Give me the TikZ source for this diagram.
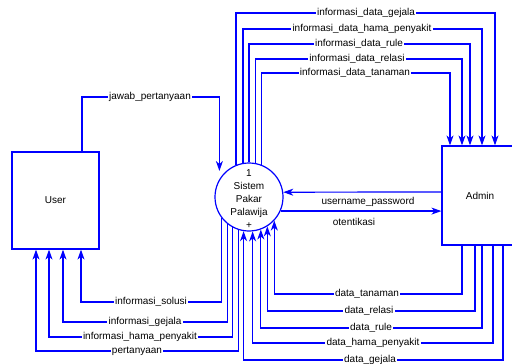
\documentclass[tikz,border=0pt]{standalone}
\usepackage{fontspec}
\setmainfont{Liberation Sans}
\usetikzlibrary{arrows.meta}
\definecolor{garisbiru}{RGB}{0,0,255}

\begin{document}
\begin{tikzpicture}[x=1pt, y=-1pt,
  font=\fontsize{10}{12}\selectfont,
  entitas/.style={rectangle, draw=garisbiru, fill=white, line width=1.2pt},
  lingkaran/.style={circle, draw=garisbiru, fill=white, line width=1.2pt, minimum size=68pt, inner sep=0pt},
  alir/.style={draw=garisbiru, line width=1.2pt, -{Stealth[length=10pt,width=7pt,inset=3pt]}},
  ket/.style={fill=white, inner sep=1.2pt}]
  \useasboundingbox (0,0) rectangle (512,364);
  \clip (0,0) rectangle (512,364);

  % entitas dan proses
  \node[entitas, minimum width=87pt, minimum height=97pt] (user) at (55.5,200.5) {User};
  \node[entitas, minimum width=76pt, minimum height=99pt] (admin) at (480,195.5) {Admin};
  \node[lingkaran] (proses) at (249,197) {};
  \node[align=center, font=\fontsize{10}{13}\selectfont] (namaproses) at ([yshift=-2pt]proses.center) {1\\Sistem\\Pakar\\Palawija\\+};

  % user
  \draw[alir] ([xshift=26.5pt]user.north) |- (150,97) node[ket]{jawab\_pertanyaan} -| ([xshift=5pt,yshift=26pt]proses.west);
  \draw[alir] (proses.217.5) |- (151,302) node[ket]{informasi\_solusi} -| ([xshift=25.5pt]user.south);
  \draw[alir] (proses.231.9) |- (145,322) node[ket]{informasi\_gejala} -| ([xshift=7.5pt]user.south);
  \draw[alir] (proses.241.9) |- (140,337) node[ket]{informasi\_hama\_penyakit} -| ([xshift=-6.5pt]user.south);
  \draw[alir] (proses.252.9) |- (137,351) node[ket]{pertanyaan} -| ([xshift=-19.5pt]user.south);

  % admin ke proses
  \draw[alir] ([yshift=3.5pt]admin.west) -- (proses.8.5);
  \node (ketuser) at (368,202) {username\_password};
  \draw[alir] (proses.-24.3) -- (admin.west |- proses.-24.3);
  \node (ketotentikasi) at (354,222) {otentikasi};

  % informasi data ke admin
  \draw[alir] (proses.112.5) |- (366,13) node[ket]{informasi\_data\_gejala} -| ([xshift=15pt]admin.north);
  \draw[alir] (proses.100.2) |- (362,29) node[ket]{informasi\_data\_hama\_penyakit} -| ([xshift=2pt]admin.north);
  \draw[alir] (proses.90) |- (359,44) node[ket]{informasi\_data\_rule} -| ([xshift=-10pt]admin.north);
  \draw[alir] (proses.79.8) |- (357,59) node[ket]{informasi\_data\_relasi} -| ([xshift=-18pt]admin.north);
  \draw[alir] (proses.69.3) |- (355,73) node[ket]{informasi\_data\_tanaman} -| ([xshift=-30pt]admin.north);

  % data dari admin
  \draw[alir] ([xshift=-18pt]admin.south) |- (367,294) node[ket]{data\_tanaman} -| (proses.317.3);
  \draw[alir] ([xshift=-5pt]admin.south) |- (369,311) node[ket]{data\_relasi} -| (proses.302);
  \draw[alir] ([xshift=2pt]admin.south) |- (371,328) node[ket]{data\_rule} -| (proses.290.7);
  \draw[alir] ([xshift=13pt]admin.south) |- (373,343) node[ket]{data\_hama\_penyakit} -| (proses.276.8);
  \draw[alir] ([xshift=23pt]admin.south) |- (370,360) node[ket]{data\_gejala} -| (proses.261.5);
\end{tikzpicture}
\end{document}
